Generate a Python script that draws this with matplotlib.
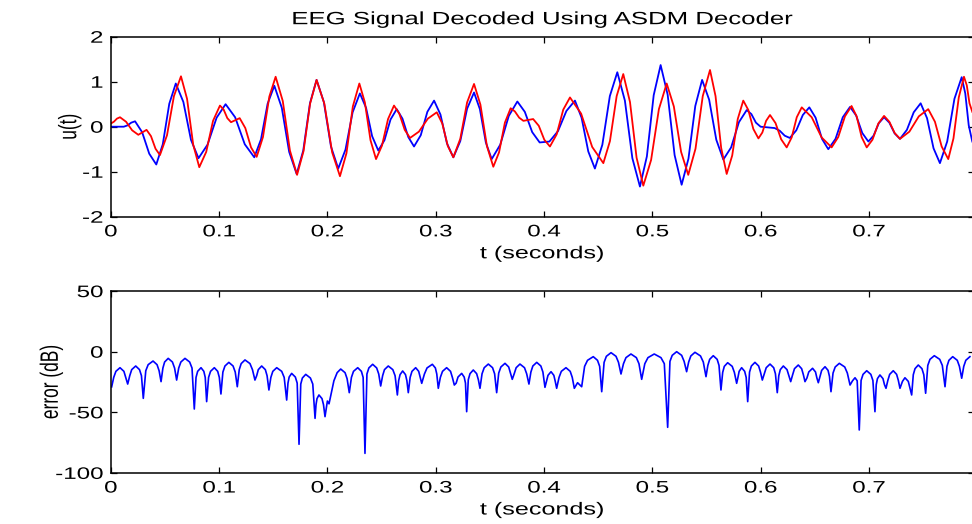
import matplotlib
matplotlib.use("Agg")
import matplotlib.pyplot as plt
import matplotlib.patheffects as pe
from matplotlib.transforms import Affine2D

# ---------------- data ----------------
blue_t = [0.000, 0.012, 0.0155, 0.0189, 0.0224, 0.0289, 0.0355, 0.042, 0.048, 0.054,
          0.060, 0.067, 0.074, 0.081, 0.0893, 0.0977, 0.106, 0.1148, 0.1237, 0.1325,
          0.1387, 0.1448, 0.151, 0.1579, 0.1647, 0.1716, 0.1777, 0.1839, 0.190, 0.1967,
          0.2033, 0.210, 0.2167, 0.2233, 0.230, 0.2357, 0.2413, 0.247, 0.2527, 0.2583,
          0.264, 0.2693, 0.2747, 0.280, 0.2862, 0.2923, 0.2985, 0.3044, 0.3104, 0.3163,
          0.3227, 0.329, 0.3354, 0.3408, 0.3463, 0.3517, 0.3596, 0.3675, 0.3754, 0.3823,
          0.3891, 0.396, 0.405, 0.4129, 0.4207, 0.4286, 0.4347, 0.4409, 0.447, 0.4539,
          0.4608, 0.4677, 0.4747, 0.4816, 0.4886, 0.495, 0.5013, 0.5077, 0.5142, 0.5206,
          0.5271, 0.5334, 0.5397, 0.546, 0.5525, 0.5591, 0.5656, 0.5728, 0.580, 0.5872,
          0.5915, 0.5957, 0.600, 0.613, 0.6177, 0.6223, 0.627, 0.633, 0.639, 0.645,
          0.6508, 0.6567, 0.6625, 0.6692, 0.6759, 0.6826, 0.6882, 0.6939, 0.6995, 0.7043,
          0.7092, 0.714, 0.7189, 0.7238, 0.7287, 0.7351, 0.7414, 0.7478, 0.7537, 0.7597,
          0.7656, 0.7723, 0.779, 0.7857, 0.789, 0.7922, 0.7955]
blue_u = [0.00, 0.00, 0.03, 0.09, 0.12, -0.12, -0.60, -0.84, -0.39, 0.51,
          0.96, 0.55, -0.29, -0.70, -0.40, 0.20, 0.50, 0.21, -0.39, -0.68,
          -0.28, 0.51, 0.91, 0.42, -0.56, -1.05, -0.53, 0.52, 1.04, 0.55,
          -0.44, -0.93, -0.51, 0.32, 0.74, 0.42, -0.21, -0.53, -0.30, 0.16,
          0.39, 0.18, -0.23, -0.44, -0.19, 0.33, 0.58, 0.27, -0.37, -0.68,
          -0.32, 0.40, 0.76, 0.39, -0.35, -0.72, -0.40, 0.24, 0.56, 0.33,
          -0.12, -0.35, -0.33, -0.10, 0.35, 0.58, 0.20, -0.55, -0.93, -0.40,
          0.68, 1.21, 0.58, -0.70, -1.33, -0.66, 0.70, 1.37, 0.71, -0.63,
          -1.29, -0.71, 0.46, 1.04, 0.60, -0.29, -0.73, -0.46, 0.10, 0.37,
          0.28, 0.09, 0.00, -0.03, -0.09, -0.20, -0.25, -0.08, 0.26, 0.43,
          0.20, -0.27, -0.50, -0.27, 0.21, 0.44, 0.25, -0.14, -0.33, -0.20,
          0.08, 0.21, 0.09, -0.15, -0.27, -0.07, 0.32, 0.52, 0.19, -0.48,
          -0.81, -0.33, 0.62, 1.10, 0.74, 0.03, -0.33]

red_t = [0.000, 0.0028, 0.0057, 0.0085, 0.0141, 0.0197, 0.0254, 0.033, 0.0371, 0.0413,
         0.0454, 0.0519, 0.0583, 0.0648, 0.0704, 0.0761, 0.0817, 0.0881, 0.0944, 0.1008,
         0.1042, 0.1076, 0.111, 0.119, 0.1242, 0.1295, 0.1347, 0.1405, 0.1464, 0.1522,
         0.1588, 0.1654, 0.172, 0.178, 0.184, 0.190, 0.1972, 0.2044, 0.2116, 0.2176,
         0.2235, 0.2295, 0.2346, 0.2398, 0.2449, 0.2504, 0.256, 0.2615, 0.2664, 0.2714,
         0.2763, 0.2845, 0.2928, 0.301, 0.3061, 0.3112, 0.3163, 0.3227, 0.329, 0.3354,
         0.3413, 0.3473, 0.3532, 0.3585, 0.3639, 0.3692, 0.3731, 0.3771, 0.381, 0.390,
         0.3952, 0.4003, 0.4055, 0.4117, 0.4178, 0.424, 0.4343, 0.4445, 0.4548, 0.4609,
         0.4671, 0.4732, 0.4794, 0.4855, 0.4917, 0.4989, 0.5061, 0.5133, 0.5199, 0.5266,
         0.5332, 0.5399, 0.5466, 0.5533, 0.5584, 0.5636, 0.5687, 0.5738, 0.5789, 0.584,
         0.5887, 0.5933, 0.598, 0.6016, 0.6051, 0.6087, 0.6138, 0.619, 0.6241, 0.6287,
         0.6334, 0.638, 0.6472, 0.6564, 0.6656, 0.6717, 0.6779, 0.684, 0.6887, 0.6933,
         0.698, 0.7033, 0.7087, 0.714, 0.7189, 0.7238, 0.7287, 0.7374, 0.7461, 0.7548,
         0.761, 0.7672, 0.7733, 0.7781, 0.783, 0.7878, 0.7904, 0.7929, 0.7955]
red_u = [0.07, 0.11, 0.18, 0.21, 0.11, -0.08, -0.18, -0.07, -0.21, -0.49,
         -0.63, -0.19, 0.68, 1.12, 0.62, -0.40, -0.90, -0.56, 0.13, 0.47,
         0.38, 0.19, 0.10, 0.19, -0.03, -0.46, -0.67, -0.23, 0.67, 1.11,
         0.57, -0.53, -1.07, -0.54, 0.51, 1.04, 0.51, -0.57, -1.10, -0.59,
         0.45, 0.96, 0.54, -0.30, -0.72, -0.42, 0.17, 0.47, 0.29, -0.07,
         -0.25, -0.11, 0.18, 0.32, 0.07, -0.43, -0.68, -0.27, 0.54, 0.95,
         0.49, -0.43, -0.89, -0.57, 0.09, 0.41, 0.34, 0.20, 0.13, 0.17,
         0.02, -0.29, -0.44, -0.17, 0.38, 0.65, 0.29, -0.45, -0.81, -0.32,
         0.68, 1.17, 0.55, -0.69, -1.31, -0.74, 0.39, 0.96, 0.45, -0.56,
         -1.07, -0.49, 0.68, 1.26, 0.68, -0.47, -1.05, -0.64, 0.17, 0.58,
         0.37, -0.05, -0.26, -0.13, 0.13, 0.26, 0.08, -0.28, -0.46, -0.24,
         0.21, 0.43, 0.21, -0.24, -0.46, -0.23, 0.23, 0.46, 0.23, -0.23,
         -0.46, -0.29, 0.07, 0.24, 0.11, -0.14, -0.27, -0.11, 0.23, 0.39,
         0.11, -0.44, -0.72, -0.26, 0.65, 1.11, 0.92, 0.52, 0.33]

# error in dB: one line per arch (shoulders + top), dips on their own lines
err_t = [0.0008,
         0.0027, 0.0047, 0.0085, 0.0121, 0.0138,
         0.0156,
         0.0175, 0.0193, 0.023, 0.0265, 0.0283,
         0.030,
         0.0323, 0.0345, 0.039, 0.0427, 0.0446,
         0.0464,
         0.0481, 0.0497, 0.053, 0.0569, 0.0589,
         0.0608,
         0.0627, 0.0647, 0.0685, 0.0728, 0.075,
         0.0771,
         0.0787, 0.0802, 0.0833, 0.0859, 0.0872,
         0.0885,
         0.0903, 0.0921, 0.0956, 0.0987, 0.1002,
         0.1017,
         0.1035, 0.1054, 0.109, 0.1129, 0.1149,
         0.1168,
         0.1186, 0.1204, 0.1239, 0.1285, 0.1308,
         0.1331,
         0.1347, 0.1362, 0.1393, 0.1427, 0.1443,
         0.146,
         0.1478, 0.1496, 0.1532, 0.1578, 0.1601,
         0.1624,
         0.1636, 0.1647, 0.167, 0.1704, 0.1721,
         0.1738,
         0.1754, 0.1769, 0.180, 0.1843, 0.1865,
         0.1886,
         0.1895, 0.1904, 0.1922, 0.195, 0.1964,
         0.1978,
         0.200,
         0.2015,
         0.206, 0.209, 0.2123, 0.2163, 0.2182,
         0.2202,
         0.2222, 0.2241, 0.228, 0.2314, 0.233,
         0.2347,
         0.2365, 0.2383, 0.2418, 0.2455, 0.2474,
         0.2492,
         0.251, 0.2527, 0.2562, 0.2604, 0.2625,
         0.2646,
         0.2658, 0.2671, 0.2695, 0.2721, 0.2734,
         0.2747,
         0.2764, 0.2781, 0.2815, 0.2843, 0.2857,
         0.2871,
         0.2896, 0.292, 0.2969, 0.2997, 0.301,
         0.3024,
         0.3043, 0.3063, 0.3101, 0.3137, 0.3154,
         0.3172,
         0.3189, 0.3206, 0.324, 0.3263, 0.3275,
         0.3286,
         0.3301, 0.3317, 0.3347, 0.3378, 0.3394,
         0.3409,
         0.3428, 0.3448, 0.3486, 0.3525, 0.3544,
         0.3563,
         0.3582, 0.3602, 0.364, 0.3674, 0.369,
         0.3707,
         0.3725, 0.3743, 0.3778, 0.382, 0.384,
         0.3861,
         0.3879, 0.3897, 0.3933, 0.3971, 0.399,
         0.4009,
         0.4023, 0.4037, 0.4065, 0.4091, 0.4104,
         0.4117,
         0.4139, 0.416, 0.4203, 0.4242, 0.4261,
         0.428,
         0.431,
         0.4348,
         0.4375, 0.4402, 0.4455, 0.4494, 0.4514,
         0.4533,
         0.4555, 0.4576, 0.4619, 0.4665, 0.4688,
         0.4711,
         0.4734, 0.4757, 0.4803, 0.4853, 0.4877,
         0.4902,
         0.4931, 0.496, 0.5018, 0.508, 0.5111,
         0.5142,
         0.5163, 0.5184, 0.5225, 0.5271, 0.5294,
         0.5317,
         0.5336, 0.5356, 0.5394, 0.5445, 0.5471,
         0.5496,
         0.5513, 0.553, 0.5563, 0.5599, 0.5616,
         0.5634,
         0.565, 0.5665, 0.5696, 0.5738, 0.5758,
         0.5779,
         0.5791, 0.5802, 0.5825, 0.5853, 0.5867,
         0.5881,
         0.5898, 0.5915, 0.5948, 0.5982, 0.5999,
         0.6016,
         0.6034, 0.6052, 0.6087, 0.6121, 0.6137,
         0.6154,
         0.6168, 0.6182, 0.621, 0.6244, 0.6261,
         0.6278,
         0.6296, 0.6313, 0.6348, 0.6379, 0.6395,
         0.641,
         0.6428, 0.6445, 0.648, 0.6507, 0.652,
         0.6533,
         0.6549, 0.6564, 0.6595, 0.6623, 0.6636,
         0.665,
         0.6669, 0.6689, 0.6727, 0.6777, 0.6801,
         0.6826,
         0.6849, 0.6872, 0.6892,
         0.6911,
         0.6928, 0.6946, 0.698, 0.7018, 0.7037,
         0.7056,
         0.7068, 0.7079, 0.7102, 0.713, 0.7144,
         0.7158,
         0.7175, 0.7192, 0.7225, 0.7256, 0.7272,
         0.7287,
         0.731, 0.7333, 0.7364,
         0.7395,
         0.741, 0.7426, 0.7456, 0.749, 0.7507,
         0.7524,
         0.7544, 0.7564, 0.7604, 0.7654, 0.7678,
         0.7703,
         0.7721, 0.7739, 0.7774, 0.7816, 0.7836,
         0.7857,
         0.7876, 0.7895, 0.7933]
err_db = [-29,
          -21.2, -16.2, -13.2, -16.2, -21.2,
          -26.7,
          -19.8, -14.8, -11.8, -14.8, -19.8,
          -38.5,
          -15.7, -10.7, -7.7, -10.7, -15.7,
          -24.7,
          -13.5, -8.5, -5.5, -8.5, -13.5,
          -23.4,
          -13.5, -8.5, -5.5, -8.5, -13.5,
          -47.3,
          -21.2, -16.2, -13.2, -16.2, -21.2,
          -41.2,
          -21.2, -16.2, -13.2, -16.2, -21.2,
          -34.9,
          -16.8, -11.8, -8.8, -11.8, -16.8,
          -28.9,
          -14.8, -9.8, -6.8, -9.8, -14.8,
          -23.4,
          -19.8, -14.8, -11.8, -14.8, -19.8,
          -31.6,
          -21.2, -16.2, -13.2, -16.2, -21.2,
          -39.9,
          -25.9, -20.9, -17.9, -20.9, -25.9,
          -76.4,
          -26.7, -21.7, -18.7, -21.7, -26.7,
          -55,
          -43.7, -38.7, -35.7, -38.7, -43.7,
          -53.6,
          -40.7,
          -43,
          -24, -17.3, -14.3, -17.3, -22.3,
          -33.8,
          -21.2, -16.2, -13.2, -16.2, -21.2,
          -83.9,
          -18.4, -13.4, -10.4, -13.4, -18.4,
          -28.3,
          -19.8, -14.8, -11.8, -14.8, -19.8,
          -35.7,
          -23.9, -18.9, -15.9, -18.9, -23.9,
          -33.8,
          -21.2, -16.2, -13.2, -16.2, -21.2,
          -26.1,
          -18.4, -13.4, -10.4, -13.4, -18.4,
          -30.2,
          -21.2, -16.2, -13.2, -16.2, -21.2,
          -27.5,
          -25.9, -20.9, -17.9, -20.9, -25.9,
          -49.5,
          -23.1, -18.1, -15.1, -18.1, -23.1,
          -30.2,
          -18.2, -13.2, -10.2, -13.2, -18.2,
          -33.8,
          -17.6, -12.6, -9.6, -12.6, -17.6,
          -22.8,
          -18.2, -13.2, -10.2, -13.2, -18.2,
          -26.7,
          -16.8, -11.8, -8.8, -11.8, -16.8,
          -29.4,
          -24.5, -19.5, -16.5, -19.5, -24.5,
          -30.2,
          -21.2, -16.2, -13.2, -16.2, -21.2,
          -30.2,
          -25.6,
          -28.9,
          -12.1, -7.1, -4.1, -7.1, -12.1,
          -33,
          -8.8, -3.8, -0.8, -3.8, -8.8,
          -18.4,
          -9.9, -4.9, -1.9, -4.9, -9.9,
          -22.8,
          -9.9, -4.9, -1.9, -4.9, -9.9,
          -62.4,
          -8, -3, 0, -3, -8,
          -16.5,
          -8.5, -3.5, -0.5, -3.5, -8.5,
          -20.6,
          -11.3, -6.3, -3.3, -6.3, -11.3,
          -31.6,
          -17.1, -12.1, -9.1, -12.1, -17.1,
          -26.1,
          -21.2, -16.2, -13.2, -16.2, -21.2,
          -41.2,
          -16.8, -11.8, -8.8, -11.8, -16.8,
          -23.4,
          -18.2, -13.2, -10.2, -13.2, -18.2,
          -33.8,
          -19.8, -14.8, -11.8, -14.8, -19.8,
          -24.7,
          -19, -14, -11, -14, -19,
          -24.7,
          -21.7, -16.7, -13.7, -16.7, -21.7,
          -25.6,
          -20.4, -15.4, -12.4, -15.4, -20.4,
          -33,
          -17.6, -12.6, -9.6, -12.6, -17.6,
          -27.5,
          -24, -21.5, -24,
          -64.6,
          -23.7, -18.7, -15.7, -18.7, -23.7,
          -49.5,
          -27.2, -22.2, -19.2, -22.2, -27.2,
          -30.2,
          -23.7, -18.7, -15.7, -18.7, -23.7,
          -30.2,
          -24.5, -21.5, -24.5,
          -35.7,
          -19, -14, -11, -14, -19,
          -34.3,
          -11.3, -6.3, -3.3, -6.3, -11.3,
          -28.9,
          -12.1, -7.1, -4.1, -7.1, -12.1,
          -21.9,
          -12.1, -7.1, -4.1]

xticks = [0, 0.1, 0.2, 0.3, 0.4, 0.5, 0.6, 0.7]
xticklabels = ["0", "0.1", "0.2", "0.3", "0.4", "0.5", "0.6", "0.7"]
u_ticks = [-2, -1, 0, 1, 2]
err_ticks = [-100, -50, 0, 50]

title_text = "EEG Signal Decoded Using ASDM Decoder"
xlabel_text = "t (seconds)"
ylabel_top = "u(t)"
ylabel_bottom = "error (dB)"


# ---------------- horizontal text stretch (the reference is widened) ----------------
class HStretch(pe.AbstractPathEffect):
    def __init__(self, sx=1.45, anchor="center"):
        super().__init__()
        self.sx = sx
        self.anchor = anchor

    def draw_path(self, renderer, gc, tpath, affine, rgbFace=None):
        bb = tpath.get_extents(affine)
        if self.anchor == "right":
            cx = bb.x1
        elif self.anchor == "left":
            cx = bb.x0
        else:
            cx = 0.5 * (bb.x0 + bb.x1)
        tr = affine + Affine2D().translate(-cx, 0).scale(self.sx, 1).translate(cx, 0)
        renderer.draw_path(gc, tpath, tr, rgbFace)


SX = 1.45
plt.rcParams["font.family"] = ["Liberation Sans", "DejaVu Sans"]

W, H = 972, 524
fig = plt.figure(figsize=(W / 100, H / 100), dpi=100)
fig.patch.set_facecolor("white")

left = 110.8 / W
width = (973.5 - 110.8) / W
ax1 = fig.add_axes([left, 1 - 216.7 / H, width, 180.0 / H])
ax2 = fig.add_axes([left, 1 - 472.9 / H, width, 181.8 / H])

ax1.plot(blue_t, blue_u, color="#0000ff", lw=1.3)
ax1.plot(red_t, red_u, color="#ff0000", lw=1.3)
ax2.plot(err_t, err_db, color="#0000ff", lw=1.2)

tick_fs = 12
lab_fs = 12.5

for ax, yt, ylab in ((ax1, u_ticks, ylabel_top), (ax2, err_ticks, ylabel_bottom)):
    ax.set_xlim(0, 0.7966)
    ax.set_ylim(yt[0], yt[-1])
    ax.set_xticks(xticks)
    ax.set_xticklabels(xticklabels)
    ax.set_yticks(yt)
    ax.set_yticklabels([str(v) for v in yt])
    ax.tick_params(direction="in", length=4.5, width=0.9, top=True, right=True,
                   labelsize=tick_fs, pad=5.5, colors="black")
    for s in ax.spines.values():
        s.set_linewidth(1.1)
        s.set_color("black")
    ax.set_xlabel(xlabel_text, fontsize=lab_fs, labelpad=5)
    ax.set_ylabel(ylab, fontsize=lab_fs, labelpad=8)
    for lb in ax.get_xticklabels():
        lb.set_path_effects([HStretch(SX, "center")])
    for lb in ax.get_yticklabels():
        lb.set_path_effects([HStretch(SX, "right")])
    ax.xaxis.label.set_path_effects([HStretch(SX, "center")])
    ax.yaxis.label.set_path_effects([HStretch(SX, "center")])

t = ax1.set_title(title_text, fontsize=12.8, pad=9)
t.set_path_effects([HStretch(SX, "center")])

fig.savefig("out.png", dpi=100, facecolor="white")
